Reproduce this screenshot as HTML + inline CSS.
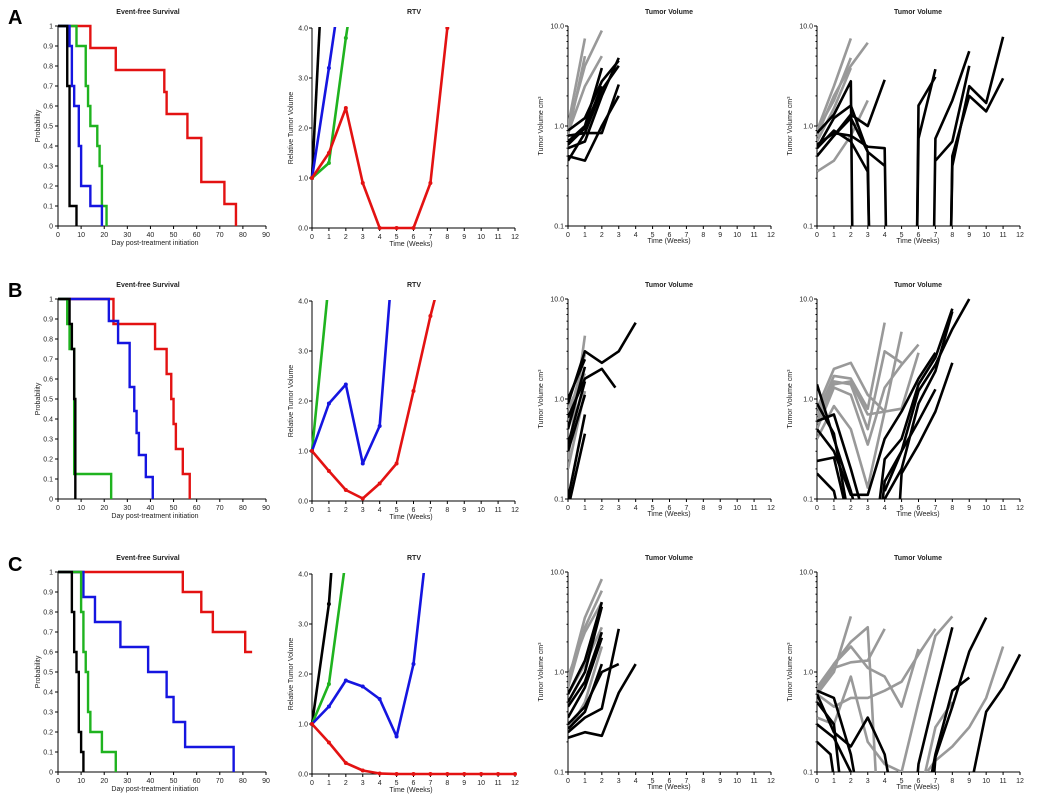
<!DOCTYPE html>
<html><head><meta charset="utf-8"><style>
body{margin:0;background:#fff;}
svg{display:block;font-family:"Liberation Sans",sans-serif;}
</style></head><body>
<svg id="fig" width="1050" height="804" viewBox="0 0 1050 804" xmlns="http://www.w3.org/2000/svg">
<text x="8" y="24" font-size="20" font-weight="bold">A</text>
<text x="8" y="297" font-size="20" font-weight="bold">B</text>
<text x="8" y="571" font-size="20" font-weight="bold">C</text>
</svg>
<script>
// ---- Event-free survival data (day, probability after step) ----
const kmA_black_t=[4,5,8], kmA_black_s=[0.7,0.1,0];
const kmA_blue_t=[5,6,7,9,10,14,19], kmA_blue_s=[0.9,0.7,0.6,0.4,0.2,0.1,0];
const kmA_green_t=[8,12,13,14,17,18,19,21], kmA_green_s=[0.9,0.7,0.6,0.5,0.4,0.3,0.1,0];
const kmA_red_t=[14,25,46,47,56,62,72,77], kmA_red_s=[0.89,0.78,0.67,0.56,0.44,0.22,0.11,0];
const kmB_black_t=[5,6,7,7.5], kmB_black_s=[0.875,0.75,0.5,0];
const kmB_green_t=[4,5,7,23], kmB_green_s=[0.875,0.75,0.125,0];
const kmB_blue_t=[22,26,31,33,34,35,38,41], kmB_blue_s=[0.89,0.78,0.56,0.44,0.33,0.22,0.11,0];
const kmB_red_t=[24,42,47,49,50,51,54,57], kmB_red_s=[0.875,0.75,0.625,0.5,0.375,0.25,0.125,0];
const kmC_black_t=[6,7,8,9,10,11], kmC_black_s=[0.8,0.6,0.5,0.2,0.1,0];
const kmC_green_t=[10,11,12,13,14,19,25], kmC_green_s=[0.8,0.6,0.5,0.3,0.2,0.1,0];
const kmC_blue_t=[11,16,27,39,47,50,55,76], kmC_blue_s=[0.875,0.75,0.625,0.5,0.375,0.25,0.125,0];
const kmC_red_t=[54,62,67,81], kmC_red_s=[0.9,0.8,0.7,0.6];
const kmC_red_end=84;

// ---- RTV data (weekly) ----
const rtvA_black=[1,7.7], rtvA_blue=[1,3.2,5.5], rtvA_green=[1,1.3,3.8,6], rtvA_red=[1,1.5,2.4,0.9,0,0,0,0.9,4.0];
const rtvB_green=[1,4.4], rtvB_blue=[1,1.95,2.33,0.75,1.5,5.8], rtvB_red=[1,0.6,0.22,0.05,0.35,0.75,2.2,3.7,5.0];
const rtvC_black=[1,3.4,8], rtvC_green=[1,1.8,4.3], rtvC_blue=[1,1.35,1.87,1.75,1.5,0.75,2.2,5.2], rtvC_red=[1,0.63,0.22,0.07,0.01,0,0,0,0,0,0,0,0];

// ---- Individual tumor volume data (weeks, cm3) ----
const tvA_ctrl_w=[[0,1,2],[0,1],[0,1],[0,1,2]];
const tvA_ctrl_v=[[0.95,4,9],[1.0,7.5],[0.8,5],[0.85,2.5,5]];
const tvA_trt_w=[[0,1,2,3],[0,1,2,3],[0,1,2,3],[0,1,2],[0,1,2,3],[0,1,2,3],[0,1,2]];
const tvA_trt_v=[[0.5,0.45,1.0,2.0],[0.6,0.7,2.0,4.8],[0.8,0.85,0.85,2.6],[0.7,1.0,3.8],[0.9,1.2,2.8,4.5],[0.45,0.85,2.3,4.0],[0.65,0.95,2.5]];
const tvA2_ctrl_w=[[0,1,2],[0,1,2,3],[0,1,2,3],[0,1,2],[0,1,2]];
const tvA2_ctrl_v=[[0.9,2.5,7.5],[0.8,2.0,4,6.8],[0.35,0.45,0.8,1.8],[0.9,1.8,4.8],[0.7,1.5,3.8]];
const tvA2_trt_w=[[0,1,2,2.1],[0,1,2,3,3.1],[0,1,2,3,4],[0,1,2,3,4,4.1],[0,1,2,3,3.1],[0,1,2,3,4],[5.9,6,7],[5.9,6,7],[6.9,7,8,9],[7,8,9],[7.9,8,9,10,11],[7.9,8,9,10,11]];
const tvA2_trt_v=[[0.85,1.3,2.8,0.05],[0.6,1.2,1.6,0.55,0.05],[0.5,0.8,1.3,1.0,2.9],[0.65,0.85,0.8,0.62,0.6,0.05],[0.6,0.9,0.7,0.35,0.05],[0.5,0.8,1.2,0.55,0.4],[0.05,1.6,3.1],[0.05,0.75,3.7],[0.05,0.75,1.8,5.6],[0.45,0.7,4.0],[0.05,0.4,2.5,1.7,7.8],[0.05,0.5,2.0,1.4,3.0]];
const tvB_ctrl_w=[[0,1],[0,1],[0,1],[0,1]];
const tvB_ctrl_v=[[0.25,4.3],[0.6,2.8],[0.2,1.2],[0.8,1.8]];
const tvB_trt_w=[[0,1,2,3,4],[0,1,2,2.8],[0,1],[0,1],[0,1],[0,1],[0,1],[0,1]];
const tvB_trt_v=[[0.9,3.0,2.3,3.0,5.8],[0.65,1.6,2.0,1.3],[0.5,2.1],[0.3,1.1],[0.1,0.7],[0.08,0.45],[0.35,1.5],[1.0,2.5]];
const tvB2_ctrl_w=[[0,1,2,3,4,5],[0,1,2,3,4],[0,1,2,3,4,5],[0,1,2,3,4,5,6],[0,1,2,3,4],[0,1,2,3,5,6]];
const tvB2_ctrl_v=[[0.8,2.0,2.3,1.1,0.75,4.7],[0.7,1.7,1.6,0.8,5.8],[0.6,1.5,1.4,0.5,3.0,2.3],[0.5,1.3,1.1,0.35,1.3,2.2,3.5],[0.4,0.85,0.5,0.13,0.75],[0.6,1.4,1.5,0.7,0.8,2.9]];
const tvB2_trt_w=[[0,1,2,2.6],[0,1,2],[0,1,1.5],[0,1,2,3],[0,1,2],[0,1,2,3,4,5,6,7],[3.5,4,5,6,7,8],[3.7,4,5,6,7,8,9],[4,5,6,7,8],[4.8,5,6,7,8],[4,5,6,7]];
const tvB2_trt_v=[[1.4,0.4,0.12,0.05],[0.9,0.45,0.05],[0.18,0.12,0.05],[0.6,0.7,0.2,0.05],[0.24,0.26,0.05],[0.5,0.3,0.11,0.11,0.4,0.75,1.6,2.9],[0.05,0.25,0.4,1.4,2.6,8.0],[0.05,0.15,0.3,1.2,2.2,5.0,10],[0.1,0.2,0.9,1.9,7.5],[0.05,0.18,0.35,0.75,2.3],[0.12,0.3,0.6,1.25]];
const tvC_ctrl_w=[[0,1,2],[0,1,2],[0,1,2],[0,1,2],[0,1,2]];
const tvC_ctrl_v=[[0.8,3.5,8.5],[0.7,2.8,6.5],[0.6,1.2,2.8],[0.25,0.5,1.8],[0.9,2.5,5]];
const tvC_trt_w=[[0,1,2],[0,1,2],[0,1,2],[0,1,2],[0,1,2],[0,1,2,3],[0,1,2,3,4],[0,1,2,3]];
const tvC_trt_v=[[0.6,1.3,5.0],[0.5,1.0,4.5],[0.45,0.8,2.5],[0.35,0.7,2.2],[0.27,0.4,1.2],[0.25,0.35,0.43,2.7],[0.22,0.25,0.23,0.62,1.2],[0.3,0.45,1.0,1.2]];
const tvC2_ctrl_w=[[0,1,2],[0,1,2,3,3.5],[0,1,2,3,4],[0,1,2,3,4,5,6],[0,1,2,3,4,5,6,7],[0,1,2,3,4,5,6,7,8],[6.5,7,8,9,10,11],[6,7,8]];
const tvC2_ctrl_v=[[0.6,1.0,3.6],[0.7,1.2,2.0,2.8,0.08],[0.65,1.1,1.25,1.3,2.7],[0.6,1.2,1.8,1.1,0.9,0.45,1.7],[0.6,0.45,0.55,0.55,0.65,0.8,1.5,2.7],[0.35,0.3,0.9,0.2,0.12,0.1,0.5,2.3,3.6],[0.1,0.13,0.18,0.28,0.55,1.8],[0.05,0.28,0.5]];
const tvC2_trt_w=[[0,1,2,2.5],[0,1,1.5],[0,1,2,3,4,4.5],[0,0.8,1.2],[0,1,2,2.5],[5.8,6,7,8],[6.8,7,8,9,10],[6.8,7,8,9],[8.9,10,11,12]];
const tvC2_trt_v=[[0.65,0.55,0.15,0.05],[0.5,0.3,0.05],[0.6,0.25,0.18,0.35,0.15,0.05],[0.2,0.15,0.05],[0.3,0.22,0.1,0.05],[0.05,0.12,0.6,2.8],[0.05,0.14,0.45,1.6,3.5],[0.1,0.15,0.65,0.88],[0.05,0.4,0.7,1.5]];

const NS="http://www.w3.org/2000/svg";
const svg=document.getElementById('fig');
const COL={black:'#000',blue:'#1515e0',green:'#1fb31f',red:'#e31212',gray:'#999'};
function mk(tag,attrs,parent){const e=document.createElementNS(NS,tag);for(const k in attrs)e.setAttribute(k,attrs[k]);(parent||svg).appendChild(e);return e;}
function txt(x,y,s,size,anchor,parent,extra){const t=mk('text',Object.assign({x:x,y:y,'font-size':size,'text-anchor':anchor,fill:'#222'},extra||{}),parent);t.textContent=s;return t;}

const ROWS=[0,273,546];
const TOP=26, H=200;

function kmPanel(r,series,endExtra){
  const oy=ROWS[r]+TOP, x0=58,x1=266;
  const g=mk('g',{});
  
  
  const sx=d=>x0+d/90*(x1-x0), sy=p=>oy+H-p*H;
  const tt=txt(148,oy-12,'Event-free Survival',7,'middle',g,{'font-weight':'bold'});
  
  mk('line',{x1:x0,y1:oy,x2:x0,y2:oy+H,stroke:'#000','stroke-width':1},g);
  mk('line',{x1:x0,y1:oy+H,x2:x1,y2:oy+H,stroke:'#000','stroke-width':1},g);
  for(let i=0;i<=10;i++){const p=i/10;mk('line',{x1:x0-3,y1:sy(p),x2:x0,y2:sy(p),stroke:'#000'},g);txt(x0-5,sy(p)+2.5,i==0?'0':i==10?'1':p.toFixed(1),7,'end',g);}
  for(let d=0;d<=90;d+=10){mk('line',{x1:sx(d),y1:oy+H,x2:sx(d),y2:oy+H+3,stroke:'#000'},g);txt(sx(d),oy+H+11,String(d),7,'middle',g);}
  const xl=txt(155,oy+H+19,'Day post-treatment initiation',7,'middle',g);
  
  const yl=txt(0,0,'Probability',7,'middle',g,{transform:`translate(40,${oy+H/2}) rotate(-90)`});
  
  series.forEach(s=>{
    let d=`M${sx(0)},${sy(1)}`;let cur=1;
    s.t.forEach((t,i)=>{d+=` H${sx(t)} V${sy(s.s[i])}`;cur=s.s[i];});
    if(s.end) d+=` H${sx(s.end)}`;
    const p=mk('path',{d:d,fill:'none',stroke:COL[s.c],'stroke-width':2.4},g);
    
    
  });
}
function rtvPanel(r,series){
  const oy=ROWS[r]+TOP+2, x0=312,x1=515;
  const g=mk('g',{});
  
  
  const sx=w=>x0+w/12*(x1-x0), sy=v=>oy+H-v/4*H;
  const tt=txt(414,oy-14,'RTV',7,'middle',g,{'font-weight':'bold'});
  
  mk('line',{x1:x0,y1:oy,x2:x0,y2:oy+H,stroke:'#000'},g);
  mk('line',{x1:x0,y1:oy+H,x2:x1,y2:oy+H,stroke:'#000'},g);
  for(let v=0;v<=4;v++){mk('line',{x1:x0-3,y1:sy(v),x2:x0,y2:sy(v),stroke:'#000'},g);txt(x0-4,sy(v)+2.5,v.toFixed(1),7,'end',g);}
  for(let w=0;w<=12;w++){mk('line',{x1:sx(w),y1:oy+H,x2:sx(w),y2:oy+H+3,stroke:'#000'},g);txt(sx(w),oy+H+11,String(w),7,'middle',g);}
  const xl=txt(411,oy+H+18,'Time (Weeks)',7,'middle',g);
  
  const yl=txt(0,0,'Relative Tumor Volume',7,'middle',g,{transform:`translate(293,${oy+H/2}) rotate(-90)`});
  
  const cid='rc'+r;const cp=mk('clipPath',{id:cid},g);mk('rect',{x:x0-4,y:oy-1,width:x1-x0+8,height:H+5},cp);
  const cg=mk('g',{'clip-path':`url(#${cid})`},g);
  series.forEach(s=>{
    const pts=s.v.map((v,i)=>`${sx(i)},${sy(v)}`).join(' ');
    const pl=mk('polyline',{points:pts,fill:'none',stroke:COL[s.c],'stroke-width':2.6,'stroke-linejoin':'round'},cg);
    
    
    s.v.forEach((v,i)=>{const m=mk('circle',{cx:sx(i),cy:sy(v),r:2,fill:COL[s.c]},cg);
      });
  });
}
function tvPanel(r,x0,ctrlW,ctrlV,trtW,trtV,key){
  const oy=ROWS[r]+TOP, x1=x0+203;
  const g=mk('g',{});
  
  
  const sx=w=>x0+w/12*(x1-x0), sy=v=>oy+H-(Math.log10(v)+1)/2*H;
  const tt=txt(x0+101,oy-12,'Tumor Volume',7,'middle',g,{'font-weight':'bold'});
  
  mk('line',{x1:x0,y1:oy,x2:x0,y2:oy+H,stroke:'#000'},g);
  mk('line',{x1:x0,y1:oy+H,x2:x1,y2:oy+H,stroke:'#000'},g);
  [0.1,1,10].forEach(v=>{mk('line',{x1:x0-3,y1:sy(v),x2:x0,y2:sy(v),stroke:'#000'},g);txt(x0-4,sy(v)+2.5,v.toFixed(1),7,'end',g);});
  [0.2,0.3,0.4,0.5,0.6,0.7,0.8,0.9,2,3,4,5,6,7,8,9].forEach(v=>mk('line',{x1:x0-1.5,y1:sy(v),x2:x0,y2:sy(v),stroke:'#000'},g));
  for(let w=0;w<=12;w++){mk('line',{x1:sx(w),y1:oy+H,x2:sx(w),y2:oy+H+3,stroke:'#000'},g);txt(sx(w),oy+H+11,String(w),7,'middle',g);}
  const xl=txt(x0+101,oy+H+17,'Time (Weeks)',7,'middle',g);
  
  const yl=txt(0,0,'Tumor Volume cm³',7,'middle',g,{transform:`translate(${x0-25},${oy+H/2}) rotate(-90)`});
  
  const cid='tc'+key;const cp=mk('clipPath',{id:cid},g);mk('rect',{x:x0,y:oy-2,width:x1-x0+4,height:H+2},cp);
  const cg=mk('g',{'clip-path':`url(#${cid})`},g);
  const draw=(W,V,c,nm)=>W.forEach((ws,i)=>{
    const pts=ws.map((w,j)=>`${sx(w)},${sy(V[i][j])}`).join(' ');
    const pl=mk('polyline',{points:pts,fill:'none',stroke:c,'stroke-width':2.6,'stroke-linejoin':'round'},cg);
    
    
  });
  draw(ctrlW,ctrlV,COL.gray,'control-tumor-line');
  draw(trtW,trtV,COL.black,'treated-tumor-line');
}

kmPanel(0,[{c:'red',t:kmA_red_t,s:kmA_red_s},{c:'green',t:kmA_green_t,s:kmA_green_s},{c:'blue',t:kmA_blue_t,s:kmA_blue_s},{c:'black',t:kmA_black_t,s:kmA_black_s}]);
kmPanel(1,[{c:'red',t:kmB_red_t,s:kmB_red_s},{c:'blue',t:kmB_blue_t,s:kmB_blue_s},{c:'green',t:kmB_green_t,s:kmB_green_s},{c:'black',t:kmB_black_t,s:kmB_black_s}]);
kmPanel(2,[{c:'red',t:kmC_red_t,s:kmC_red_s,end:kmC_red_end},{c:'blue',t:kmC_blue_t,s:kmC_blue_s},{c:'green',t:kmC_green_t,s:kmC_green_s},{c:'black',t:kmC_black_t,s:kmC_black_s}]);

rtvPanel(0,[{c:'black',v:rtvA_black},{c:'blue',v:rtvA_blue},{c:'green',v:rtvA_green},{c:'red',v:rtvA_red}]);
rtvPanel(1,[{c:'green',v:rtvB_green},{c:'blue',v:rtvB_blue},{c:'red',v:rtvB_red}]);
rtvPanel(2,[{c:'black',v:rtvC_black},{c:'green',v:rtvC_green},{c:'blue',v:rtvC_blue},{c:'red',v:rtvC_red}]);

tvPanel(0,568,tvA_ctrl_w,tvA_ctrl_v,tvA_trt_w,tvA_trt_v,'a1');
tvPanel(0,817,tvA2_ctrl_w,tvA2_ctrl_v,tvA2_trt_w,tvA2_trt_v,'a2');
tvPanel(1,568,tvB_ctrl_w,tvB_ctrl_v,tvB_trt_w,tvB_trt_v,'b1');
tvPanel(1,817,tvB2_ctrl_w,tvB2_ctrl_v,tvB2_trt_w,tvB2_trt_v,'b2');
tvPanel(2,568,tvC_ctrl_w,tvC_ctrl_v,tvC_trt_w,tvC_trt_v,'c1');
tvPanel(2,817,tvC2_ctrl_w,tvC2_ctrl_v,tvC2_trt_w,tvC2_trt_v,'c2');
</script>
</body></html>
